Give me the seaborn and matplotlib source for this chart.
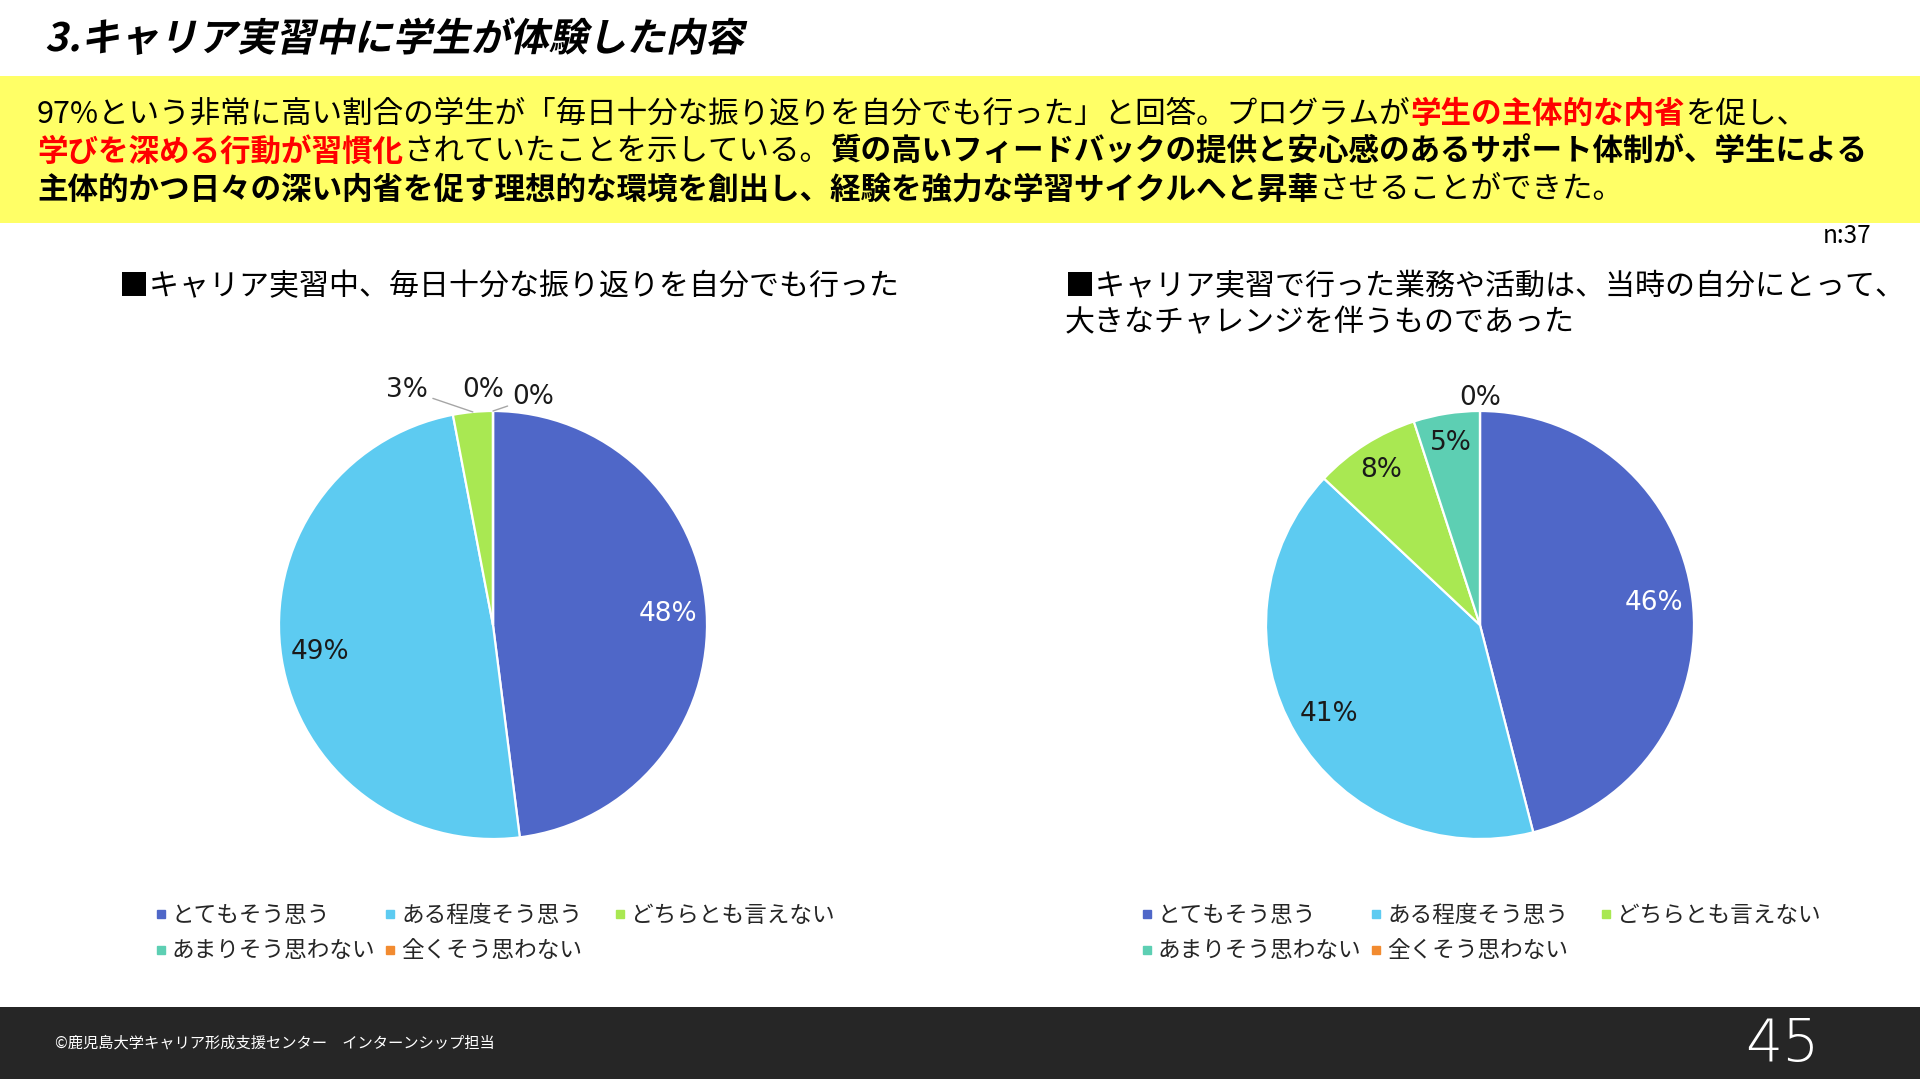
import matplotlib.pyplot as plt
import numpy as np
import seaborn as sns
from matplotlib.font_manager import FontProperties
from matplotlib.lines import Line2D
from matplotlib.patches import PathPatch, Rectangle
from matplotlib.textpath import TextPath
from matplotlib.transforms import Affine2D

# Chart data
categories = ['とてもそう思う', 'ある程度そう思う', 'どちらとも言えない', 'あまりそう思わない', '全くそう思わない']
reflection_pct = [48, 49, 3, 0, 0]
challenge_pct = [46, 41, 8, 5, 0]
n_respondents = 37

title = '3.キャリア実習中に学生が体験した内容'
left_title = ['■キャリア実習中、毎日十分な振り返りを自分でも行った']
right_title = ['■キャリア実習で行った業務や活動は、当時の自分にとって、', '大きなチャレンジを伴うものであった']

# Summary text: (text, red, bold) pieces for each line
summary = [
    [('97%という非常に高い割合の学生が「毎日十分な振り返りを自分でも行った」と回答。プログラムが', False, False),
     ('学生の主体的な内省', True, True),
     ('を促し、', False, False)],
    [('学びを深める行動が習慣化', True, True),
     ('されていたことを示している。', False, False),
     ('質の高いフィードバックの提供と安心感のあるサポート体制が、学生による', False, True)],
    [('主体的かつ日々の深い内省を促す理想的な環境を創出し、経験を強力な学習サイクルへと昇華', False, True),
     ('させることができた。', False, False)],
]
footer = '©鹿児島大学キャリア形成支援センター　インターンシップ担当'
page_no = '45'

# Style
sns.set_theme(style='white')
plt.rcParams['font.family'] = ['Noto Sans CJK JP', 'DejaVu Sans']
colors = sns.color_palette(['#4F67C8', '#5DCBF1', '#A9E852', '#5DCFB3', '#F28B30'])
W, H = 1920, 1079

fig = plt.figure(figsize=(W / 100, H / 100), dpi=100)
fig.patch.set_facecolor('white')

# Background axes in pixel coordinates (y downwards)
bg = fig.add_axes([0, 0, 1, 1])
bg.set_xlim(0, W)
bg.set_ylim(H, 0)
bg.axis('off')

# Title, bold and slanted
title_path = TextPath((0, 0), title, size=39,
                      prop=FontProperties(family='Noto Sans CJK JP', weight='bold'))
tt = Affine2D().skew_deg(12, 0).scale(1, -1).translate(45, 51)
bg.add_patch(PathPatch(title_path, transform=tt + bg.transData, fc='black', lw=0))

# Yellow summary box with mixed-colour text
bg.add_patch(Rectangle((0, 76), W, 147, color='#FFFF66', lw=0))
renderer = fig.canvas.get_renderer()
line_y = [114, 152, 190]
for y, pieces in zip(line_y, summary):
    x = 37
    for text, red, bold in pieces:
        t = bg.text(x, y, text, fontsize=22, va='center', ha='left',
                    color='#FF0000' if red else 'black',
                    fontweight='bold' if bold else 'normal')
        x += t.get_window_extent(renderer).width

bg.text(1871, 236, f'n:{n_respondents}', fontsize=17.5, ha='right', va='center', color='black')

# Chart subtitles
for i, line in enumerate(left_title):
    bg.text(119, 287 + i * 36, line, fontsize=21.6, ha='left', va='center', color='black')
for i, line in enumerate(right_title):
    bg.text(1065, 287 + i * 36, line, fontsize=21.6, ha='left', va='center', color='black')


def draw_pie(cx, cy, values, overrides):
    r = 214
    half = r * 1.3
    ax = fig.add_axes([(cx - half) / W, (H - cy - half) / H, 2 * half / W, 2 * half / H])
    wedges, _ = ax.pie(values, colors=colors, startangle=90, counterclock=False,
                       wedgeprops=dict(edgecolor='white', linewidth=1.6))
    ax.set_xlim(-1.3, 1.3)
    ax.set_ylim(-1.3, 1.3)
    ax.set_aspect('equal')
    ax.axis('off')
    for i, (w, v) in enumerate(zip(wedges, values)):
        mid = np.deg2rad((w.theta1 + w.theta2) / 2)
        label = f'{v}%'
        color = 'white' if i == 0 else '#1A1A1A'
        if i in overrides:
            ang, rad, leader = overrides[i]
            a = np.deg2rad(ang)
            pos = (rad * np.cos(a), rad * np.sin(a))
            if leader:
                ax.annotate(label, xy=(np.cos(mid), np.sin(mid)), xytext=pos,
                            ha='center', va='center', fontsize=19, color=color,
                            family='DejaVu Sans',
                            arrowprops=dict(arrowstyle='-', color='#A6A6A6', lw=1,
                                            shrinkA=1, shrinkB=0))
            else:
                ax.text(pos[0], pos[1], label, ha='center', va='center', fontsize=19,
                        color=color, family='DejaVu Sans')
        else:
            rr = 0.82 if v > 20 else 0.86
            ax.text(rr * np.cos(mid), rr * np.sin(mid), label, ha='center', va='center',
                    fontsize=19, color=color, family='DejaVu Sans')
    return ax


draw_pie(493, 625, reflection_pct, {2: (110, 1.17, True), 3: (92.4, 1.10, False), 4: (80, 1.08, True)})
draw_pie(1480, 625, challenge_pct, {4: (90, 1.063, False)})

# Legends: one small legend per column so the columns are evenly spaced
handles = [Line2D([], [], marker='s', linestyle='', markersize=6,
                  markerfacecolor=c, markeredgecolor=c) for c in colors]
columns = [[0, 3], [1, 4], [2]]
for lx in [155, 1141]:
    for ci, col in enumerate(columns):
        fig.legend([handles[k] for k in col], [categories[k] for k in col], ncol=1,
                   loc='upper left', bbox_to_anchor=(lx + ci * 229.5, 904),
                   bbox_transform=bg.transData,
                   frameon=False, fontsize=16.3, handlelength=0.5, handletextpad=0.25,
                   labelspacing=0.55, borderpad=0, borderaxespad=0)

# Footer
bg.add_patch(Rectangle((0, 1007), W, 72, color='#262626', lw=0))
bg.text(55, 1043, footer, fontsize=11, color='white', ha='left', va='center')
bg.text(1782, 1045, page_no, fontsize=42, color='white', ha='center', va='center',
        family='DejaVu Sans', fontweight='light')

fig.savefig('out.png', dpi=100, facecolor='white')
